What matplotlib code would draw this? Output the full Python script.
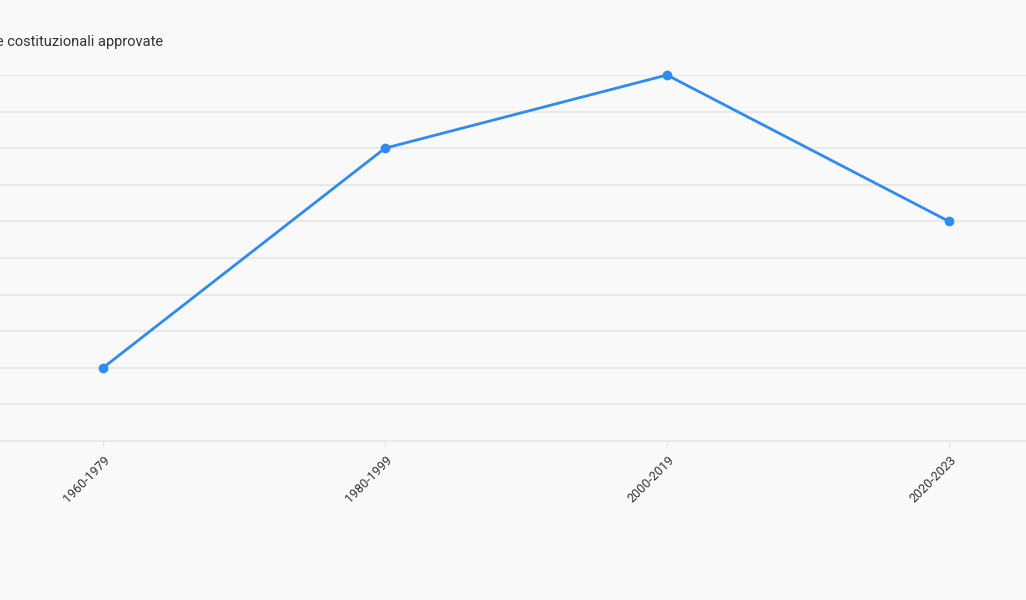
import matplotlib
matplotlib.use("Agg")
import matplotlib.pyplot as plt
import matplotlib.transforms as mtransforms

# ── Data ──────────────────────────────────────────────────────────────────────
periods = ["1960-1979", "1980-1999", "2000-2019", "2020-2023"]
approved = [2, 8, 10, 6]
y_name = "Riforme costituzionali approvate"

BG = "#f9f9f9"
LINE = "#2f8bef"
GRID = "#e9e9e9"
TEXT = "#333333"

plt.rcParams["font.family"] = ["Roboto", "DejaVu Sans"]

W, H = 1026, 600
fig = plt.figure(figsize=(W / 100, H / 100), dpi=100, facecolor=BG)

# plot area runs past the left and right edges of the picture (cropped chart)
left_px, right_px, top_px, bottom_px = -38, 1090, 75, 441
ax = fig.add_axes([left_px / W, 1 - bottom_px / H,
                   (right_px - left_px) / W, (bottom_px - top_px) / H])
ax.set_facecolor(BG)

x = list(range(len(periods)))
ax.plot(x, approved, color=LINE, lw=2.0, marker="o", ms=6, zorder=3,
        clip_on=False)

ax.set_xlim(-0.5, len(periods) - 0.5)
ax.set_ylim(0, 10)
ax.set_yticks(range(0, 11))
ax.yaxis.grid(True, color=GRID, lw=1.5)
ax.set_axisbelow(True)
ax.tick_params(axis="y", length=0, labelleft=False)

ax.set_xticks(x)
ax.set_xticklabels(periods, rotation=45, ha="right", va="center",
                   rotation_mode="anchor", fontsize=9, color=TEXT)
ax.tick_params(axis="x", length=5, width=1, color=GRID, pad=6)
shift = mtransforms.ScaledTranslation(5 / 100, -2 / 100, fig.dpi_scale_trans)
for lbl in ax.get_xticklabels():
    lbl.set_transform(lbl.get_transform() + shift)

for s in ["top", "right", "left"]:
    ax.spines[s].set_visible(False)
ax.spines["bottom"].set_color(GRID)
ax.spines["bottom"].set_linewidth(1.5)

# y-axis name, its start is cut off by the left edge like in the source
fig.text(163 / W, 1 - 42 / H, y_name, ha="right", va="center",
         fontsize=10.5, color=TEXT)

fig.savefig("out.png", dpi=100, facecolor=BG)
